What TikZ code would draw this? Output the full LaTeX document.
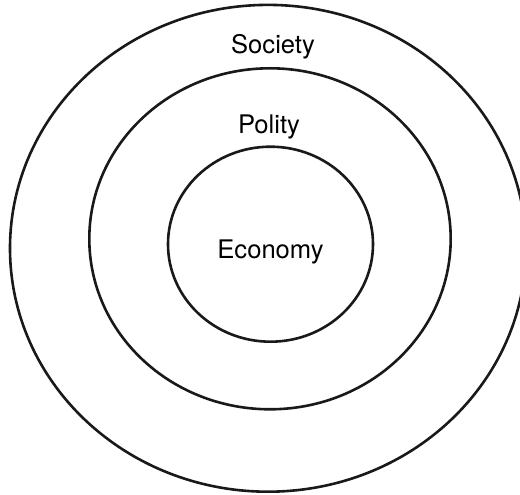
\documentclass[tikz,border=0pt]{standalone}
\usepackage{fontspec}
\setmainfont{TeX Gyre Heros}
\usetikzlibrary{positioning}

\begin{document}
\begin{tikzpicture}[x=1pt,y=1pt,line width=2.6pt]
        \useasboundingbox (0,0) rectangle (520,495);
        \clip (0,0) rectangle (520,495);

        \draw [black!90] (268,246.7) ellipse [x radius=258,y radius=243.4];
        \draw [black!90] (270,256.2) ellipse [x radius=180.7,y radius=170.5];
        \draw [black!90] (270.5,250.8) ellipse [x radius=102.5,y radius=97.5];

        \node [font=\fontsize{25.6}{30}\selectfont] at (273,448) (society){Society};
        \node [font=\fontsize{25.6}{30}\selectfont] at (269,368) (polity){Polity};
        \node [font=\fontsize{25.6}{30}\selectfont] at (270.5,243) (economy){Economy};
      \end{tikzpicture}
\end{document}
